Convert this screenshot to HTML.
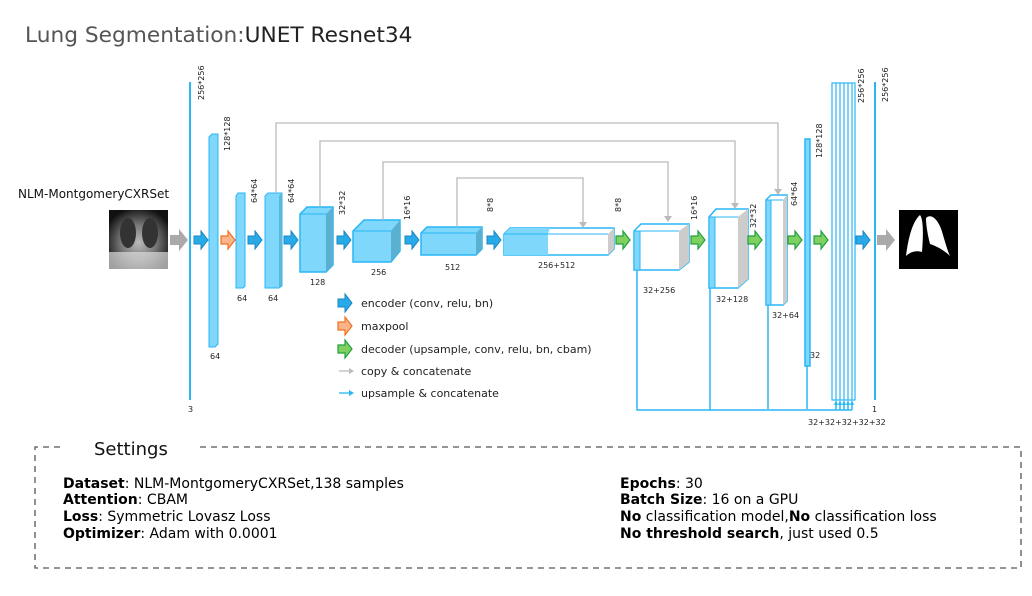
<!DOCTYPE html>
<html><head><meta charset="utf-8"><style>
html,body{margin:0;padding:0;background:#fff;}
svg{display:block;font-family:"DejaVu Sans","Liberation Sans",sans-serif;}
.t{font-size:8px;fill:#222;}
.lg{font-size:11px;fill:#222;}
.s{font-size:14px;fill:#000;}
</style></head><body>
<svg width="1032" height="596" viewBox="0 0 1032 596" xmlns="http://www.w3.org/2000/svg">
<defs>
<polygon id="ab" points="0,-4 7,-4 7,-9 14,0 7,9 7,4 0,4" fill="#29aae8" stroke="#1a86c0" stroke-width="1"/>
<polygon id="ao" points="0,-4 7,-4 7,-9 14,0 7,9 7,4 0,4" fill="#fbb48a" stroke="#f07020" stroke-width="1.2"/>
<polygon id="ag" points="0,-4 7,-4 7,-9 14,0 7,9 7,4 0,4" fill="#7fd060" stroke="#20a040" stroke-width="1.2"/>
<polygon id="ay" points="0,-5 9,-5 9,-11 18,0 9,11 9,5 0,5" fill="#aaa"/>
<radialGradient id="xr" cx="50%" cy="55%" r="60%"><stop offset="0" stop-color="#bbb"/><stop offset="0.5" stop-color="#777"/><stop offset="1" stop-color="#111"/></radialGradient>
</defs>
<text x="25" y="42" font-size="21.7" fill="#555">Lung Segmentation:<tspan fill="#222">UNET Resnet34</tspan></text>
<text x="18" y="198" font-size="12" fill="#111">NLM-MontgomeryCXRSet</text>
<rect x="109" y="210" width="59" height="59" fill="url(#xr)"/>
<ellipse cx="128" cy="233" rx="8" ry="15" fill="#333"/><ellipse cx="150" cy="233" rx="8" ry="15" fill="#333"/>
<rect x="109" y="252" width="59" height="17" fill="#ddd" opacity="0.7"/>
<use href="#ay" x="170" y="240"/>
<line x1="190" y1="82" x2="190" y2="400" stroke="#29b6f6" stroke-width="2"/>
<text class="t" transform="translate(204,100) rotate(-90)">256*256</text>
<text class="t" x="188" y="412">3</text>
<use href="#ab" x="194" y="240"/>
<polygon points="209,137 212,134 218,134 218,344 215,347 209,347" fill="#7fd7fb" stroke="#29b6f6"/>
<text class="t" transform="translate(230,151) rotate(-90)">128*128</text>
<text class="t" x="210" y="359">64</text>
<use href="#ao" x="221" y="240"/>
<polygon points="236,196 238,193 245,193 245,286 243,288 236,288" fill="#7fd7fb" stroke="#29b6f6"/>
<text class="t" transform="translate(257,203) rotate(-90)">64*64</text>
<text class="t" x="237" y="301">64</text>
<use href="#ab" x="248" y="240"/>
<polygon points="265,196 268,193 282,193 282,286 279,288 265,288" fill="#7fd7fb" stroke="#29b6f6"/>
<polygon points="279,196 282,193 282,286 279,288" fill="#5ab8dc"/>
<text class="t" transform="translate(294,203) rotate(-90)">64*64</text>
<text class="t" x="268" y="301">64</text>
<use href="#ab" x="284" y="240"/>
<polygon points="300,214 307,207 333,207 333,265 326,272 300,272" fill="#7fd7fb" stroke="#29b6f6" stroke-width="1.5"/>
<polygon points="326,214 333,207 333,265 326,272" fill="#5ab0d0"/>
<line x1="300" y1="214" x2="326" y2="214" stroke="#29b6f6"/>
<text class="t" x="310" y="285">128</text>
<text class="t" transform="translate(345,215) rotate(-90)">32*32</text>
<use href="#ab" x="337" y="240"/>
<polygon points="353,231 364,220 400,220 400,251 391,262 353,262" fill="#7fd7fb" stroke="#29b6f6" stroke-width="1.5"/>
<polygon points="391,231 400,220 400,251 391,262" fill="#5ab0d0"/>
<line x1="353" y1="231" x2="391" y2="231" stroke="#29b6f6"/>
<text class="t" x="371" y="275">256</text>
<text class="t" transform="translate(410,220) rotate(-90)">16*16</text>
<use href="#ab" x="405" y="240"/>
<polygon points="421,233 427,227 482,227 482,249 476,255 421,255" fill="#7fd7fb" stroke="#29b6f6" stroke-width="1.5"/>
<polygon points="476,233 482,227 482,249 476,255" fill="#5ab0d0"/>
<line x1="421" y1="233" x2="476" y2="233" stroke="#29b6f6"/>
<text class="t" x="445" y="270">512</text>
<text class="t" transform="translate(493,212) rotate(-90)">8*8</text>
<use href="#ab" x="487" y="240"/>
<polygon points="504,234 510,228 614,228 614,249 608,255 504,255" fill="#fff" stroke="#29b6f6" stroke-width="1.5"/>
<polygon points="504,234 510,228 550,228 548,234 548,255 504,255" fill="#7fd7fb"/>
<polygon points="608,234 614,228 614,249 608,255" fill="#ccc"/>
<line x1="504" y1="234" x2="608" y2="234" stroke="#29b6f6"/>
<text class="t" x="538" y="268">256+512</text>
<text class="t" transform="translate(621,212) rotate(-90)">8*8</text>
<use href="#ag" x="616" y="240"/>
<polygon points="634,231 641,224 689,224 689,262 679,270 634,270" fill="#fff" stroke="#29b6f6" stroke-width="1.5"/>
<polygon points="679,231 689,224 689,262 679,270" fill="#ccc"/>
<rect x="634" y="231" width="6" height="39" fill="#7fd7fb" stroke="#29b6f6"/>
<line x1="640" y1="231" x2="679" y2="231" stroke="#29b6f6"/>
<text class="t" x="643" y="293">32+256</text>
<text class="t" transform="translate(697,220) rotate(-90)">16*16</text>
<use href="#ag" x="691" y="240"/>
<polygon points="709,217 716,209 748,209 748,279 738,288 709,288" fill="#fff" stroke="#29b6f6" stroke-width="1.5"/>
<polygon points="738,217 748,209 748,279 738,288" fill="#ccc"/>
<rect x="709" y="217" width="6" height="71" fill="#7fd7fb" stroke="#29b6f6"/>
<line x1="715" y1="217" x2="738" y2="217" stroke="#29b6f6"/>
<text class="t" x="716" y="302">32+128</text>
<text class="t" transform="translate(756,228) rotate(-90)">32*32</text>
<use href="#ag" x="748" y="240"/>
<polygon points="766,200 771,195 787,195 787,301 783,305 766,305" fill="#fff" stroke="#29b6f6" stroke-width="1.5"/>
<polygon points="783,200 787,195 787,301 783,305" fill="#ccc"/>
<rect x="766" y="200" width="5" height="105" fill="#7fd7fb" stroke="#29b6f6"/>
<line x1="771" y1="200" x2="783" y2="200" stroke="#29b6f6"/>
<text class="t" x="772" y="318">32+64</text>
<text class="t" transform="translate(797,206) rotate(-90)">64*64</text>
<use href="#ag" x="788" y="240"/>
<rect x="805" y="139" width="5" height="227" fill="#7fd7fb" stroke="#29b6f6" stroke-width="1.5"/>
<text class="t" transform="translate(822,158) rotate(-90)">128*128</text>
<text class="t" x="810" y="358">32</text>
<use href="#ag" x="814" y="240"/>
<g stroke="#29b6f6" stroke-width="1.2" fill="none">
<rect x="832" y="83" width="23" height="317"/>
<line x1="836" y1="83" x2="836" y2="400"/><line x1="840" y1="83" x2="840" y2="400"/><line x1="844" y1="83" x2="844" y2="400"/><line x1="848" y1="83" x2="848" y2="400"/><line x1="852" y1="83" x2="852" y2="400"/>
</g>
<text class="t" transform="translate(864,103) rotate(-90)">256*256</text>
<use href="#ab" x="856" y="240"/>
<line x1="875" y1="82" x2="875" y2="400" stroke="#29b6f6" stroke-width="2"/>
<text class="t" transform="translate(888,102) rotate(-90)">256*256</text>
<text class="t" x="872" y="412">1</text>
<use href="#ay" x="877" y="240"/>
<rect x="899" y="210" width="59" height="59" fill="#000"/>
<path d="M906,256 C908,240 912,222 920,215 C924,220 923,240 922,252 C916,250 910,252 906,256Z" fill="#fff"/>
<path d="M926,218 C932,212 940,222 943,235 C946,245 948,252 950,256 C944,250 936,246 930,244 C928,236 926,226 926,218Z" fill="#fff"/>
<g stroke="#bbb" stroke-width="1.3" fill="none">
<polyline points="276,193 276,123 778,123 778,190"/>
<polyline points="320,207 320,141 735,141 735,205"/>
<polyline points="383,220 383,162 668,162 668,217"/>
<polyline points="457,227 457,178 583,178 583,223"/>
</g>
<g fill="#bbb">
<polygon points="774,189 782,189 778,195"/>
<polygon points="731,203 739,203 735,209"/>
<polygon points="664,216 672,216 668,222"/>
<polygon points="579,222 587,222 583,228"/>
</g>
<g stroke="#29b6f6" stroke-width="1.5" fill="none">
<polyline points="637,270 637,410 852,410"/>
<line x1="710" y1="288" x2="710" y2="410"/>
<line x1="768" y1="305" x2="768" y2="409"/>
<line x1="807" y1="366" x2="807" y2="409"/>
<line x1="836" y1="403" x2="836" y2="410"/><line x1="840" y1="403" x2="840" y2="410"/><line x1="844" y1="403" x2="844" y2="410"/><line x1="848" y1="403" x2="848" y2="410"/><line x1="852" y1="403" x2="852" y2="410"/>
</g>
<g fill="#29b6f6"><polygon points="834,405 838,405 836,400"/><polygon points="838,405 842,405 840,400"/><polygon points="842,405 846,405 844,400"/><polygon points="846,405 850,405 848,400"/><polygon points="850,405 854,405 852,400"/></g>
<text class="t" x="808" y="425">32+32+32+32+32</text>
<use href="#ab" x="338" y="303"/><text class="lg" x="361" y="307">encoder (conv, relu, bn)</text>
<use href="#ao" x="338" y="326"/><text class="lg" x="361" y="330">maxpool</text>
<use href="#ag" x="338" y="349"/><text class="lg" x="361" y="353">decoder (upsample, conv, relu, bn, cbam)</text>
<line x1="339" y1="371" x2="350" y2="371" stroke="#bbb" stroke-width="1.3"/><polygon points="349,368 354,371 349,374" fill="#bbb"/>
<text class="lg" x="361" y="375">copy &amp; concatenate</text>
<line x1="339" y1="393" x2="350" y2="393" stroke="#29b6f6" stroke-width="1.3"/><polygon points="349,390 354,393 349,396" fill="#29b6f6"/>
<text class="lg" x="361" y="397">upsample &amp; concatenate</text>
<path d="M60,447 L35,447 L35,568 L1021,568 L1021,447 L198,447" fill="none" stroke="#555" stroke-width="1.3" stroke-dasharray="6,5"/>
<text x="94" y="455" font-size="18" fill="#111">Settings</text>
<text class="s" x="63" y="488"><tspan font-weight="bold">Dataset</tspan>: NLM-MontgomeryCXRSet,138 samples</text>
<text class="s" x="63" y="504"><tspan font-weight="bold">Attention</tspan>: CBAM</text>
<text class="s" x="63" y="521"><tspan font-weight="bold">Loss</tspan>: Symmetric Lovasz Loss</text>
<text class="s" x="63" y="538"><tspan font-weight="bold">Optimizer</tspan>: Adam with 0.0001</text>
<text class="s" x="620" y="488"><tspan font-weight="bold">Epochs</tspan>: 30</text>
<text class="s" x="620" y="504"><tspan font-weight="bold">Batch Size</tspan>: 16 on a GPU</text>
<text class="s" x="620" y="521"><tspan font-weight="bold">No</tspan> classification model,<tspan font-weight="bold">No</tspan> classification loss</text>
<text class="s" x="620" y="538"><tspan font-weight="bold">No threshold search</tspan>, just used 0.5</text>
</svg>
</body></html>
